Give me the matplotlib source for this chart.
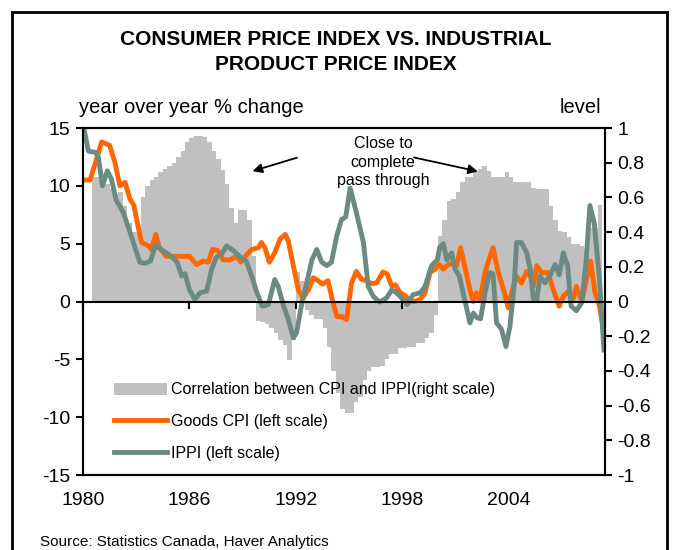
import matplotlib
matplotlib.use('Agg')
import matplotlib.pyplot as plt
from matplotlib.patches import Rectangle, Patch
from matplotlib.lines import Line2D

plt.rcParams['font.family'] = ['Liberation Sans', 'DejaVu Sans']
plt.rcParams['axes.unicode_minus'] = False

# correlation between CPI and IPPI (right scale), quarterly from 1980Q3
corr_start = 1980.5
corr = [0.72, 0.72, 0.70, 0.68, 0.65, 0.62, 0.63, 0.55, 0.45, 0.40,
        0.40, 0.60, 0.665, 0.70, 0.72, 0.745, 0.763, 0.78, 0.80, 0.83,
        0.87, 0.92, 0.945, 0.955, 0.955, 0.95, 0.92, 0.87, 0.82, 0.76,
        0.68, 0.54, 0.455, 0.53, 0.53, 0.47, 0.26, -0.11, -0.12, -0.13,
        -0.15, -0.18, -0.22, -0.25, -0.335, -0.22, 0.17, 0.12, -0.05, -0.08,
        -0.10, -0.10, -0.15, -0.26, -0.40, -0.53, -0.62, -0.64, -0.64, -0.58,
        -0.55, -0.45, -0.40, -0.38, -0.38, -0.37, -0.33, -0.30, -0.30, -0.27,
        -0.27, -0.26, -0.26, -0.24, -0.24, -0.21, -0.18, -0.08, 0.38, 0.47,
        0.58, 0.59, 0.63, 0.69, 0.72, 0.72, 0.753, 0.763, 0.78, 0.753,
        0.715, 0.715, 0.72, 0.744, 0.715, 0.686, 0.686, 0.686, 0.686, 0.657,
        0.647, 0.647, 0.647, 0.55, 0.47, 0.406, 0.40, 0.37, 0.33, 0.33,
        0.32, 0.30, 0.426, 0.426, 0.555]
corr_t = [corr_start + 0.25 * i for i in range(len(corr))]

# Goods CPI, y/y % change
cpi_t = [1980.02, 1980.4, 1980.7, 1981.05, 1981.5, 1981.8, 1982.08, 1982.37, 1982.65, 1982.87,
         1983.06, 1983.3, 1983.7, 1983.85, 1984.1, 1984.3, 1984.7, 1985.2, 1985.65, 1986.0,
         1986.4, 1986.78, 1987.06, 1987.3, 1987.6, 1987.9, 1988.28, 1988.65, 1988.9, 1989.2,
         1989.5, 1989.88, 1990.05, 1990.25, 1990.5, 1990.8, 1991.1, 1991.4, 1991.57, 1991.85,
         1992.13, 1992.4, 1992.7, 1992.97, 1993.25, 1993.5, 1993.8, 1994.0, 1994.3, 1994.57,
         1994.85, 1995.13, 1995.4, 1995.7, 1995.98, 1996.26, 1996.54, 1996.9, 1997.13, 1997.4,
         1997.6, 1997.86, 1998.15, 1998.4, 1998.7, 1999.0, 1999.27, 1999.55, 1999.83, 2000.07,
         2000.3, 2000.5, 2000.87, 2001.05, 2001.27, 2001.5, 2001.8, 2001.99, 2002.17, 2002.36,
         2002.65, 2002.93, 2003.1, 2003.4, 2003.7, 2003.96, 2004.15, 2004.4, 2004.7, 2005.0,
         2005.2, 2005.37, 2005.56, 2005.84, 2006.2, 2006.5, 2006.83, 2007.06, 2007.36, 2007.6,
         2007.8, 2008.1, 2008.37, 2008.6, 2008.85, 2009.1, 2009.35]
cpi = [10.5, 10.5, 12.0, 13.8, 13.5, 12.0, 10.0, 10.3, 8.85, 8.3,
       6.8, 5.1, 4.8, 4.5, 5.8, 4.65, 3.9, 3.9, 3.9, 3.9,
       3.2, 3.5, 3.4, 4.5, 4.4, 3.6, 3.6, 3.9, 3.4, 4.0,
       4.5, 4.65, 5.1, 4.65, 3.4, 4.2, 5.4, 5.8, 5.2, 3.1,
       1.0, 0.3, 1.0, 2.05, 1.8, 1.5, 1.8, 0.46, -1.3, -1.3,
       -1.56, 1.6, 2.6, 1.9, 1.8, 1.55, 1.6, 2.55, 2.4, 1.3,
       1.45, 0.75, 0.5, 0.03, 0.0, 0.2, 0.75, 2.5, 2.8, 3.2,
       2.8, 3.1, 3.4, 3.1, 4.65, 3.1, 1.0, 0.0, 0.75, 0.15,
       2.5, 3.9, 4.65, 2.5, 1.0, -0.55, 0.75, 2.2, 1.6, 2.6,
       2.2, 1.3, 3.1, 2.5, 2.5, 1.0, -0.4, 0.46, 0.9, 0.1,
       1.3, 0.0, 1.9, 3.5, 0.75, -0.4, -2.7]

# IPPI, y/y % change
ippi_t = [1980.05, 1980.3, 1980.7, 1980.86, 1981.1, 1981.37, 1981.6, 1981.86, 1982.27, 1982.65,
          1982.9, 1983.2, 1983.5, 1983.8, 1984.1, 1984.5, 1984.9, 1985.3, 1985.56, 1985.75,
          1986.0, 1986.3, 1986.6, 1986.97, 1987.25, 1987.5, 1987.8, 1988.1, 1988.47, 1988.9,
          1989.2, 1989.5, 1989.8, 1990.1, 1990.45, 1990.8, 1991.0, 1991.3, 1991.57, 1991.85,
          1992.03, 1992.3, 1992.6, 1992.9, 1993.17, 1993.45, 1993.73, 1994.0, 1994.3, 1994.57,
          1994.8, 1995.05, 1995.4, 1995.8, 1996.07, 1996.35, 1996.7, 1997.1, 1997.4, 1997.67,
          1997.95, 1998.27, 1998.6, 1999.0, 1999.27, 1999.64, 1999.96, 2000.1, 2000.3, 2000.5,
          2000.77, 2000.96, 2001.2, 2001.5, 2001.8, 2001.99, 2002.2, 2002.4, 2002.65, 2002.9,
          2003.1, 2003.3, 2003.58, 2003.83, 2004.06, 2004.3, 2004.43, 2004.7, 2005.0, 2005.2,
          2005.37, 2005.56, 2005.75, 2006.03, 2006.3, 2006.6, 2006.83, 2007.06, 2007.3, 2007.5,
          2007.8, 2008.1, 2008.34, 2008.56, 2008.8, 2009.1, 2009.35]
ippi = [15.0, 13.0, 12.9, 12.5, 10.0, 11.3, 10.6, 8.8, 7.7, 6.0,
        4.8, 3.4, 3.3, 3.5, 4.9, 4.4, 4.0, 3.4, 2.2, 2.4,
        1.0, 0.2, 0.75, 0.9, 2.8, 3.8, 4.1, 4.8, 4.4, 3.8,
        3.5, 2.2, 0.75, -0.4, -0.26, 1.9, 1.3, -0.4, -1.56, -3.15,
        -2.7, -0.4, 1.6, 3.6, 4.5, 3.4, 3.1, 3.4, 5.7, 7.1,
        7.3, 9.8, 7.7, 5.1, 1.3, 0.46, -0.05, 0.3, 1.0, 0.75,
        0.3, -0.26, 0.6, 0.75, 1.3, 3.1, 3.6, 4.7, 5.0, 3.6,
        4.2, 2.8, 2.2, 0.2, -1.85, -1.0, -1.4, -1.5, 0.75, 2.5,
        2.4, -1.85, -2.4, -3.9, -2.1, 1.6, 5.1, 5.1, 4.2, 2.8,
        0.2, 0.1, 2.2, 1.6, 2.2, 3.2, 2.3, 4.2, 3.1, -0.4,
        -0.8, -0.1, 3.4, 8.3, 6.8, 1.9, -4.2]

years = [1980, 1986, 1992, 1998, 2004]
left_ticks = [15, 10, 5, 0, -5, -10, -15]
right_ticks = [1, 0.8, 0.6, 0.4, 0.2, 0, -0.2, -0.4, -0.6, -0.8, -1]
right_labels = ['1', '0.8', '0.6', '0.4', '0.2', '0', '-0.2', '-0.4', '-0.6', '-0.8', '-1']

orange = '#FF6600'
green = '#6A8A83'
gray = '#C0C0C0'

fig = plt.figure(figsize=(6.73, 5.5), dpi=100)
ax = fig.add_axes([83 / 673, 1 - 475 / 550, 522 / 673, 347 / 550])
ax2 = ax.twinx()
ax.set_zorder(2)
ax2.set_zorder(1)
ax.patch.set_visible(False)

# correlation bars on the right scale
ax2.bar(corr_t, corr, width=0.25, align='edge', color=gray, linewidth=0)
ax2.set_ylim(-1, 1)
ax2.set_yticks(right_ticks, labels=right_labels)
ax2.tick_params(axis='y', direction='out', length=5, width=1.5, pad=4, labelsize=14)

ax.plot(cpi_t, cpi, color=orange, lw=3.5, solid_joinstyle='round')
ax.plot(ippi_t, ippi, color=green, lw=3.5, solid_joinstyle='round')
ax.set_xlim(1980, 2009.41)
ax.set_ylim(-15, 15)
ax.set_yticks(left_ticks)
ax.tick_params(axis='y', direction='out', length=5, width=1.5, pad=4, labelsize=14)

# category axis crosses at zero, labels sit below the plot
ax.spines['bottom'].set_position(('data', 0))
ax.set_xticks(years, labels=[])
ax.tick_params(axis='x', direction='out', length=5, width=1.5)
sec = ax.secondary_xaxis('bottom')
sec.set_xticks(years, labels=[str(y) for y in years])
sec.tick_params(length=0, pad=12, labelsize=14)
sec.spines['bottom'].set_linewidth(1.5)

for a in (ax, ax2):
    for s in a.spines.values():
        s.set_linewidth(1.5)
        s.set_color('black')

# annotation
ax.text(1996.9, 12.05, 'Close to\ncomplete\npass through', ha='center', va='center',
        fontsize=11.5, linespacing=1.3)
ax.annotate('', xy=(1989.4, 11.2), xytext=(1992.2, 12.5),
            arrowprops=dict(arrowstyle='-|>', color='black', lw=1.3, mutation_scale=14))
ax.annotate('', xy=(2002.4, 11.2), xytext=(1998.5, 12.5),
            arrowprops=dict(arrowstyle='-|>', color='black', lw=1.3, mutation_scale=14))

handles = [Patch(facecolor=gray, edgecolor='none'),
           Line2D([], [], color=orange, lw=3.5),
           Line2D([], [], color=green, lw=3.5)]
labels = ['Correlation between CPI and IPPI(right scale)',
          'Goods CPI (left scale)',
          'IPPI (left scale)']
ax.legend(handles, labels, loc='upper left', bbox_to_anchor=(0.045, 0.29), frameon=False,
          fontsize=11.5, handlelength=3.3, handleheight=0.75, handletextpad=0.25,
          labelspacing=1.05, borderpad=0)

fig.text(0.4993, 1 - 52 / 550, 'CONSUMER PRICE INDEX VS. INDUSTRIAL\nPRODUCT PRICE INDEX',
         ha='center', va='center', fontsize=15, fontweight='bold', linespacing=1.35)
fig.text(79 / 673, 1 - 108 / 550, 'year over year % change', ha='left', va='center', fontsize=14.5)
fig.text(601 / 673, 1 - 108 / 550, 'level', ha='right', va='center', fontsize=14.5)
fig.text(40 / 673, 1 - 542 / 550, 'Source: Statistics Canada, Haver Analytics', ha='left',
         va='center', fontsize=11)

fig.add_artist(Rectangle((12 / 673, -0.05), 655 / 673, 1.028, transform=fig.transFigure,
                         fill=False, lw=2, ec='black'))

fig.savefig('out.png', dpi=100)
